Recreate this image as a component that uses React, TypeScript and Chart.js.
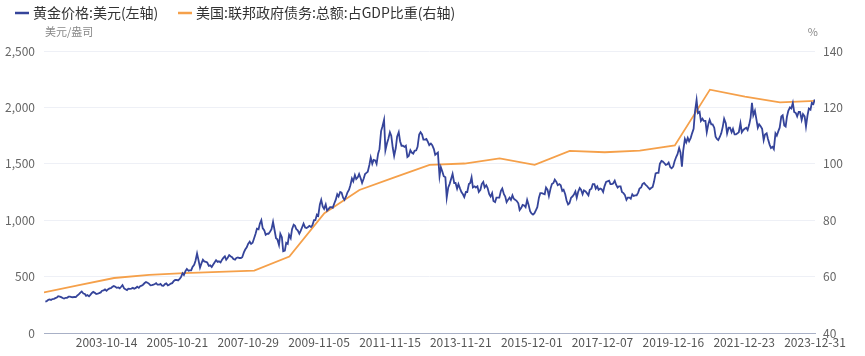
import React, { useEffect, useRef } from "react";
import { Chart, registerables } from "chart.js";

Chart.register(...registerables);

const GOLD_LABEL = "黄金价格:美元(左轴)";
const DEBT_LABEL = "美国:联邦政府债务:总额:占GDP比重(右轴)";
const LEFT_UNIT = "美元/盎司";
const RIGHT_UNIT = "%";

const xTickLabels = [
  "2003-10-14", "2005-10-21", "2007-10-29", "2009-11-05", "2011-11-15",
  "2013-11-21", "2015-12-01", "2017-12-07", "2019-12-16", "2021-12-23", "2023-12-31",
];

const goldYears = [2002, 2003, 2004, 2005, 2006, 2007, 2008, 2009, 2010, 2011, 2012, 2013,
  2014, 2015, 2016, 2017, 2018, 2019, 2020, 2021, 2022, 2023];

// semi-monthly gold prices (mid-month, month-end), USD/oz
const gold2002 = [279, 282, 294, 297, 293, 301, 303, 309, 315, 326, 323, 318, 310, 305, 312, 312, 322, 323, 318, 317, 320, 318, 333, 342];
const gold2003 = [358, 368, 350, 348, 330, 336, 326, 338, 355, 364, 356, 346, 350, 354, 360, 375, 378, 386, 375, 386, 395, 398, 410, 416];
const gold2004 = [410, 400, 404, 396, 410, 425, 395, 388, 380, 393, 392, 394, 400, 392, 400, 410, 400, 415, 420, 428, 443, 452, 445, 438];
const gold2005 = [422, 424, 428, 434, 442, 428, 428, 435, 420, 418, 434, 440, 423, 428, 438, 442, 462, 470, 470, 466, 480, 495, 530, 515];
const gold2006 = [550, 568, 552, 555, 555, 585, 605, 640, 705, 650, 580, 615, 650, 635, 630, 625, 595, 600, 585, 605, 628, 645, 630, 635];
const gold2007 = [625, 648, 668, 680, 650, 665, 690, 680, 672, 655, 650, 665, 670, 665, 665, 672, 715, 740, 760, 790, 810, 790, 800, 835];
const gold2008 = [880, 925, 920, 970, 1000, 930, 910, 870, 880, 880, 900, 920, 985, 920, 840, 830, 780, 880, 850, 725, 730, 800, 790, 870];
const gold2009 = [840, 920, 960, 950, 920, 910, 880, 905, 940, 970, 935, 930, 940, 950, 940, 955, 1000, 1000, 1050, 1040, 1140, 1180, 1120, 1100];
const gold2010 = [1140, 1085, 1100, 1115, 1115, 1110, 1150, 1180, 1230, 1210, 1250, 1245, 1200, 1180, 1210, 1245, 1270, 1310, 1370, 1345, 1400, 1365, 1380, 1410];
const gold2011 = [1370, 1330, 1370, 1410, 1420, 1430, 1490, 1555, 1500, 1535, 1530, 1500, 1590, 1630, 1790, 1830, 1890, 1620, 1680, 1720, 1780, 1750, 1640, 1570];
const gold2012 = [1640, 1740, 1780, 1700, 1660, 1660, 1650, 1660, 1560, 1570, 1620, 1600, 1590, 1615, 1620, 1650, 1760, 1780, 1760, 1715, 1715, 1720, 1695, 1665];
const gold2013 = [1680, 1665, 1630, 1580, 1590, 1600, 1390, 1470, 1430, 1390, 1380, 1200, 1290, 1320, 1370, 1410, 1330, 1330, 1280, 1320, 1280, 1250, 1230, 1205];
const gold2014 = [1250, 1250, 1320, 1330, 1380, 1290, 1300, 1290, 1300, 1250, 1270, 1320, 1340, 1290, 1310, 1285, 1230, 1210, 1240, 1170, 1160, 1200, 1200, 1200];
const gold2015 = [1260, 1280, 1230, 1210, 1160, 1180, 1200, 1180, 1220, 1190, 1180, 1170, 1150, 1090, 1110, 1135, 1130, 1115, 1180, 1140, 1080, 1060, 1050, 1060];
const gold2016 = [1090, 1115, 1200, 1240, 1240, 1235, 1230, 1290, 1270, 1215, 1280, 1320, 1330, 1360, 1340, 1310, 1320, 1310, 1260, 1270, 1230, 1175, 1140, 1150];
const gold2017 = [1200, 1210, 1230, 1255, 1200, 1250, 1285, 1270, 1230, 1265, 1255, 1240, 1220, 1270, 1280, 1320, 1320, 1280, 1300, 1270, 1280, 1275, 1250, 1300];
const gold2018 = [1340, 1345, 1350, 1320, 1320, 1325, 1350, 1315, 1290, 1300, 1300, 1250, 1240, 1225, 1180, 1200, 1200, 1190, 1230, 1215, 1220, 1220, 1245, 1280];
const gold2019 = [1290, 1320, 1330, 1315, 1305, 1290, 1275, 1285, 1295, 1340, 1415, 1420, 1420, 1500, 1525, 1520, 1505, 1490, 1495, 1510, 1470, 1460, 1475, 1520];
const gold2020 = [1560, 1585, 1640, 1600, 1475, 1620, 1720, 1690, 1730, 1700, 1730, 1770, 1810, 1960, 2065, 1950, 1960, 1880, 1900, 1880, 1880, 1780, 1850, 1890];
const gold2021 = [1850, 1850, 1820, 1740, 1720, 1710, 1740, 1770, 1830, 1900, 1860, 1770, 1820, 1820, 1780, 1810, 1760, 1760, 1770, 1780, 1860, 1780, 1800, 1810];
const gold2022 = [1820, 1800, 1850, 1910, 2040, 1930, 1970, 1900, 1820, 1850, 1830, 1810, 1710, 1760, 1770, 1720, 1670, 1640, 1650, 1630, 1770, 1750, 1790, 1820];
const gold2023 = [1920, 1930, 1840, 1830, 1920, 1970, 2000, 1990, 2040, 1960, 1950, 1920, 1960, 1960, 1890, 1940, 1920, 1830, 1930, 1990, 1980, 2040, 2030, 2070];

const goldByYear = [gold2002, gold2003, gold2004, gold2005, gold2006, gold2007, gold2008, gold2009,
  gold2010, gold2011, gold2012, gold2013, gold2014, gold2015, gold2016, gold2017, gold2018,
  gold2019, gold2020, gold2021, gold2022, gold2023];

const debtDates = [
  "2001-12-31", "2002-12-31", "2003-12-31", "2004-12-31", "2005-12-31", "2006-12-31",
  "2007-12-31", "2008-12-31", "2009-12-31", "2010-12-31", "2011-12-31", "2012-12-31",
  "2013-12-31", "2014-12-31", "2015-12-31", "2016-12-31", "2017-12-31", "2018-12-31",
  "2019-12-31", "2020-12-31", "2021-12-31", "2022-12-31", "2023-12-31",
];
const debtValues = [54.4, 57.0, 59.5, 60.6, 61.2, 61.7, 62.1, 67.1, 82.5, 90.7, 95.2, 99.6,
  100.1, 101.9, 99.6, 104.6, 104.1, 104.7, 106.5, 126.3, 123.8, 121.8, 122.3];

const GOLD_COLOR = "#35449a";
const DEBT_COLOR = "#f5a04a";
const FONT = "'Noto Sans CJK SC', 'Noto Sans', sans-serif";

const DAY = 86400000;
const toDay = (s: string) => {
  const [y, m, d] = s.split("-").map(Number);
  return Date.UTC(y, m - 1, d) / DAY;
};
const fmtDay = (v: number) => {
  const dt = new Date(v * DAY);
  const p = (n: number) => String(n).padStart(2, "0");
  return `${dt.getUTCFullYear()}-${p(dt.getUTCMonth() + 1)}-${p(dt.getUTCDate())}`;
};

const goldPoints: { x: number; y: number }[] = [];
goldYears.forEach((yr, i) => {
  goldByYear[i].forEach((v, h) => {
    const month = Math.floor(h / 2);
    const day = h % 2 === 0 ? 14 : 28;
    goldPoints.push({ x: Date.UTC(yr, month, day) / DAY, y: v });
  });
});
const debtPoints = debtDates.map((d, i) => ({ x: toDay(d), y: debtValues[i] }));
const tickDays = xTickLabels.map(toDay);

const overlayPlugin = {
  id: "overlay",
  afterDraw(chart: any) {
    const ctx = chart.ctx as CanvasRenderingContext2D;
    ctx.save();
    // legend
    ctx.font = `14px ${FONT}`;
    ctx.textBaseline = "middle";
    const ly = 13;
    ctx.lineWidth = 2.5;
    ctx.strokeStyle = GOLD_COLOR;
    ctx.beginPath(); ctx.moveTo(15, ly); ctx.lineTo(29, ly); ctx.stroke();
    ctx.fillStyle = "#333";
    ctx.textAlign = "left";
    ctx.fillText(GOLD_LABEL, 33, ly);
    ctx.strokeStyle = DEBT_COLOR;
    ctx.beginPath(); ctx.moveTo(178, ly); ctx.lineTo(192, ly); ctx.stroke();
    ctx.fillText(DEBT_LABEL, 196, ly);
    // units
    ctx.font = `11px ${FONT}`;
    ctx.fillStyle = "#888";
    ctx.fillText(LEFT_UNIT, 45, 32);
    ctx.textAlign = "right";
    ctx.fillText(RIGHT_UNIT, 818, 32);
    ctx.restore();
  },
};

export default function App() {
  const ref = useRef<HTMLCanvasElement | null>(null);
  useEffect(() => {
    if (!ref.current) return;
    const chart = new Chart(ref.current, {
      type: "line",
      data: {
        datasets: [
          {
            label: GOLD_LABEL,
            data: goldPoints,
            borderColor: GOLD_COLOR,
            borderWidth: 1.8,
            pointRadius: 0,
            yAxisID: "y",
            tension: 0,
          },
          {
            label: DEBT_LABEL,
            data: debtPoints,
            borderColor: DEBT_COLOR,
            borderWidth: 1.8,
            pointRadius: 0,
            yAxisID: "y1",
            tension: 0,
          },
        ],
      },
      options: {
        animation: false,
        responsive: true,
        maintainAspectRatio: false,
        parsing: false as any,
        layout: { padding: { top: 51, left: 0, right: 0, bottom: 0 } },
        plugins: { legend: { display: false }, tooltip: { enabled: false } },
        scales: {
          x: {
            type: "linear",
            min: toDay("2001-12-31"),
            max: toDay("2023-12-31"),
            grid: { display: false, drawTicks: false, tickLength: 0 },
            border: { display: true, color: "#a8b0c6", width: 1 },
            afterBuildTicks: (s: any) => {
              s.ticks = tickDays.map((v) => ({ value: v }));
            },
            afterFit: (s: any) => { s.height = 23; },
            ticks: {
              autoSkip: false,
              maxRotation: 0,
              padding: 2,
              color: "#555",
              font: { size: 12, family: FONT },
              callback: (v: any) => fmtDay(Number(v)),
            },
          },
          y: {
            position: "left",
            min: 0,
            max: 2500,
            grid: { color: "#eef0f6", lineWidth: 1, drawTicks: false },
            border: { display: false },
            afterFit: (s: any) => { s.width = 44; },
            ticks: {
              stepSize: 500,
              padding: 9,
              color: "#666",
              font: { size: 12, family: FONT },
              callback: (v: any) => Number(v).toLocaleString("en-US"),
            },
          },
          y1: {
            position: "right",
            min: 40,
            max: 140,
            grid: { display: false, drawTicks: false },
            border: { display: false },
            afterFit: (s: any) => { s.width = 50; },
            ticks: {
              stepSize: 20,
              padding: 8,
              color: "#666",
              font: { size: 12, family: FONT },
            },
          },
        },
      } as any,
      plugins: [overlayPlugin],
    });
    return () => chart.destroy();
  }, []);
  return (
    <div style={{ position: "fixed", left: 0, top: 0, width: 865, height: 356, background: "#fff" }}>
      <canvas ref={ref} />
    </div>
  );
}
